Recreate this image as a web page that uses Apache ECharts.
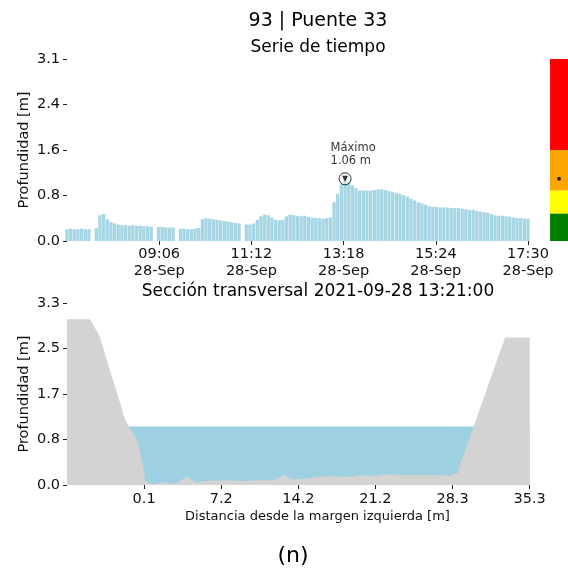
<!DOCTYPE html>
<html><head><meta charset="utf-8">
<script src="https://cdn.jsdelivr.net/npm/echarts@6/dist/echarts.min.js"></script>
<style>html,body{margin:0;padding:0;background:#fff}#c{width:568px;height:574px}</style>
</head><body><div id="c"></div>
<script>
// ---- Time series (depth every 5 min from 07:00, null = missing) ----
const timeStart = "07:00";
const timeStepMin = 5;
const depth = [
  0.20,0.21,0.20,0.20,0.21,0.20,0.20,
  null,
  0.22,0.44,0.46,0.37,
  0.32,0.30,0.28,0.27,0.27,0.26,0.27,0.26,0.26,0.25,0.25,0.24,
  null,
  0.24,0.24,0.23,0.23,0.23,
  null,
  0.21,0.21,0.20,0.20,0.21,0.22,
  0.37,0.39,0.38,0.37,0.36,0.35,0.34,0.33,0.32,0.31,0.30,
  null,
  0.28,0.28,0.30,0.36,0.42,0.45,0.44,0.40,0.36,0.35,0.36,
  0.42,0.45,0.44,0.43,0.42,0.43,0.41,0.40,0.39,0.39,0.38,0.39,
  0.40,0.66,0.80,0.97,1.06,1.00,0.95,0.90,0.86,0.86,0.86,0.86,
  0.87,0.88,0.88,0.87,0.85,0.83,0.82,0.80,0.78,0.76,0.72,0.69,
  0.66,0.64,0.62,0.59,0.58,0.58,0.57,0.57,0.57,0.56,0.56,0.56,
  0.55,0.54,0.53,0.53,0.51,0.50,0.49,0.48,0.46,0.44,0.43,0.43,
  0.42,0.41,0.40,0.39,0.39,0.38,0.38
];
const timeTickLabels = ["09:06","11:12","13:18","15:24","17:30"];
const dateLabel = "28-Sep";
const depthTicksTop = [0, 0.775, 1.55, 2.325, 3.1];
const depthTickLabelsTop = ["0.0","0.8","1.6","2.4","3.1"];

// ---- Alert level bar ----
const alertLevels = [0.47, 0.86, 1.55, 3.1];
const alertColors = ["#008000","#ffff00","#ffa500","#ff0000"];
const currentLevel = 1.06;

// ---- Cross section ----
const sectionDist = [-6.94,-4.83,-3.98,-1.64,-0.51,-0.02,0.19,0.95,1.86,2.47,3.02,4.0,4.91,5.83,7.65,8.57,9.48,10.7,11.9,12.82,13.73,15.26,15.87,17.39,18.9,19.83,21.04,21.95,23.48,25.0,27.13,27.9,28.8,28.9,30.17,33.07,35.3];
const sectionBed  = [3.0,3.0,2.69,1.18,0.79,0.36,0.06,0.01,0.04,0.03,0.02,0.15,0.04,0.07,0.09,0.07,0.07,0.09,0.08,0.18,0.10,0.12,0.14,0.16,0.14,0.17,0.16,0.19,0.18,0.18,0.18,0.16,0.22,0.33,1.04,2.67,2.67];
const waterLevel = 1.06;
const distTicks = [0.1, 7.14, 14.18, 21.22, 28.26, 35.3];
const distTickLabels = ["0.1","7.2","14.2","21.2","28.3","35.3"];
const depthTicksBottom = [0, 0.825, 1.65, 2.475, 3.3];
const depthTickLabelsBottom = ["0.0","0.8","1.7","2.5","3.3"];

// ---- build ----
const FONT = 'DejaVu Sans';
const TXT = '#111';
const toMin = s => { const p = s.split(':').map(Number); return p[0]*60 + p[1]; };
const t0 = toMin(timeStart);
const tEnd = t0 + (depth.length - 1) * timeStepMin;
const barData = [];
depth.forEach((v, i) => { if (v !== null) barData.push([t0 + i*timeStepMin, v]); });
let iMax = 0;
depth.forEach((v, i) => { if (v !== null && v > depth[iMax]) iMax = i; });
const tMax = t0 + iMax*timeStepMin, vMax = depth[iMax];
const timeTicks = timeTickLabels.map(toMin);
const nearestIdx = (arr, v) => { let b = 0; arr.forEach((a, i) => { if (Math.abs(a - v) < Math.abs(arr[b] - v)) b = i; }); return b; };

const tickStyle = {show: true, length: 4, lineStyle: {color: '#222', width: 1}};
const lblStyle = {fontSize: 14.5, fontFamily: FONT, color: TXT};
const yNameStyle = {fontSize: 14.5, fontFamily: FONT, color: TXT};
const noLine = {show: false, onZero: false};

const alertSeries = alertLevels.map((lv, k) => ({
  type: 'bar', xAxisIndex: 1, yAxisIndex: 1, stack: 'lvl', barWidth: '100%',
  data: [lv - (k ? alertLevels[k-1] : 0)], itemStyle: {color: alertColors[k]}, silent: true
}));

const option = {
  animation: false,
  backgroundColor: '#fff',
  grid: [
    {left: 67, right: 40, top: 59, bottom: 333},
    {left: 550, right: 0, top: 59, bottom: 333},
    {left: 67, right: 0, top: 303, bottom: 89}
  ],
  xAxis: [
    {gridIndex: 0, type: 'value', min: t0, max: tEnd,
     axisLine: noLine, splitLine: {show: false},
     axisTick: Object.assign({customValues: timeTicks}, tickStyle),
     axisLabel: Object.assign({customValues: timeTicks, margin: 5, lineHeight: 17,
       formatter: v => timeTickLabels[nearestIdx(timeTicks, v)] + '\n' + dateLabel}, lblStyle)},
    {gridIndex: 1, type: 'category', data: ['nivel'], show: false, axisLine: noLine},
    {gridIndex: 2, type: 'value', min: sectionDist[0], max: 38.8,
     axisLine: noLine, splitLine: {show: false},
     axisTick: Object.assign({customValues: distTicks}, tickStyle),
     axisLabel: Object.assign({customValues: distTicks, margin: 7,
       formatter: v => distTickLabels[nearestIdx(distTicks, v)]}, lblStyle),
     name: 'Distancia desde la margen izquierda [m]', nameLocation: 'middle', nameGap: 25,
     nameMoveOverlap: false,
     nameTextStyle: {fontSize: 13, fontFamily: FONT, color: TXT}}
  ],
  yAxis: [
    {gridIndex: 0, type: 'value', min: 0, max: depthTicksTop[depthTicksTop.length-1],
     axisLine: noLine, splitLine: {show: false},
     axisTick: Object.assign({customValues: depthTicksTop}, tickStyle),
     axisLabel: Object.assign({customValues: depthTicksTop, margin: 7,
       formatter: v => depthTickLabelsTop[nearestIdx(depthTicksTop, v)]}, lblStyle),
     name: 'Profundidad [m]', nameLocation: 'middle', nameGap: 35, nameRotate: 90,
     nameMoveOverlap: false, nameTextStyle: yNameStyle},
    {gridIndex: 1, type: 'value', min: 0, max: depthTicksTop[depthTicksTop.length-1], show: false, axisLine: noLine},
    {gridIndex: 2, type: 'value', min: 0, max: depthTicksBottom[depthTicksBottom.length-1],
     axisLine: noLine, splitLine: {show: false},
     axisTick: Object.assign({customValues: depthTicksBottom}, tickStyle),
     axisLabel: Object.assign({customValues: depthTicksBottom, margin: 7,
       formatter: v => depthTickLabelsBottom[nearestIdx(depthTicksBottom, v)]}, lblStyle),
     name: 'Profundidad [m]', nameLocation: 'middle', nameGap: 35, nameRotate: 90,
     nameMoveOverlap: false, nameTextStyle: yNameStyle}
  ],
  series: [
    {type: 'bar', xAxisIndex: 0, yAxisIndex: 0, data: barData, barWidth: 3.3,
     itemStyle: {color: '#a6d5e4'}, silent: true},
    {type: 'scatter', xAxisIndex: 0, yAxisIndex: 0, data: [[tMax, vMax]], symbol: 'circle', symbolSize: 12, z: 5,
     itemStyle: {color: 'rgba(255,255,255,0.5)', borderColor: '#000', borderWidth: 1},
     label: {show: true, formatter: 'Máximo\n' + vMax.toFixed(2) + ' m', position: [-8, -31],
       align: 'left', verticalAlign: 'top', fontSize: 11.5, lineHeight: 13, fontFamily: FONT, color: '#000'}},
    {type: 'scatter', xAxisIndex: 0, yAxisIndex: 0, data: [[tMax, vMax]], symbol: 'triangle', symbolRotate: 180,
     symbolSize: 6, z: 6, itemStyle: {color: '#000'}},
    ...alertSeries,
    {type: 'scatter', xAxisIndex: 1, yAxisIndex: 1, data: [[0, currentLevel]], symbolSize: 4, z: 5,
     itemStyle: {color: '#000'}},
    {type: 'line', xAxisIndex: 2, yAxisIndex: 2, z: 2,
     data: [[sectionDist[0], waterLevel], [sectionDist[sectionDist.length-1], waterLevel]],
     symbol: 'none', lineStyle: {width: 0}, areaStyle: {color: '#9dd1e1', opacity: 1}},
    {type: 'line', xAxisIndex: 2, yAxisIndex: 2, z: 3,
     data: sectionDist.map((d, i) => [d, sectionBed[i]]),
     symbol: 'none', lineStyle: {width: 0.5, color: '#d3d3d3'}, areaStyle: {color: '#d3d3d3', opacity: 1}}
  ],
  graphic: [
    {type: 'text', x: 318, y: 21, style: {text: '93 | Puente 33', fontSize: 19, fontFamily: FONT, fill: '#000', align: 'center', verticalAlign: 'middle'}},
    {type: 'text', x: 318, y: 48, style: {text: 'Serie de tiempo', fontSize: 17, fontFamily: FONT, fill: '#000', align: 'center', verticalAlign: 'middle'}},
    {type: 'text', x: 318, y: 292, style: {text: 'Sección transversal 2021-09-28 13:21:00', fontSize: 17, fontFamily: FONT, fill: '#000', align: 'center', verticalAlign: 'middle'}},
    {type: 'text', x: 293, y: 556, style: {text: '(n)', fontSize: 22, fontFamily: FONT, fill: '#000', align: 'center', verticalAlign: 'middle'}}
  ]
};
const chart = echarts.init(document.getElementById('c'));
chart.setOption(option);
</script>
</body></html>
